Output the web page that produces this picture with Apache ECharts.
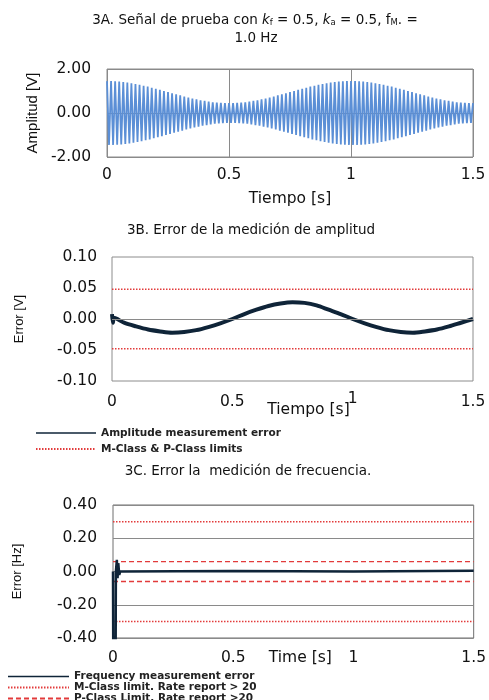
<!DOCTYPE html>
<html>
<head>
<meta charset="utf-8">
<script src="https://cdn.jsdelivr.net/npm/echarts@6/dist/echarts.min.js"></script>
<style>
html, body { margin: 0; padding: 0; background: #fff; }
#main { width: 489px; height: 700px; }
</style>
</head>
<body>
<div id="main"></div>
<script>
// 3A - peak amplitude of each carrier cycle (60 cycles per second)
var carrierHzA = 60;
var peaksA = [
    1.45, 1.45, 1.44, 1.43, 1.41, 1.38, 1.35, 1.32, 1.28, 1.24,
    1.20, 1.15, 1.10, 1.05, 1.00, 0.95, 0.90, 0.85, 0.80, 0.75,
    0.70, 0.66, 0.62, 0.58, 0.55, 0.52, 0.49, 0.47, 0.46, 0.45,
    0.45, 0.45, 0.46, 0.47, 0.49, 0.52, 0.55, 0.58, 0.62, 0.66,
    0.70, 0.75, 0.80, 0.85, 0.90, 0.95, 1.00, 1.05, 1.10, 1.15,
    1.20, 1.24, 1.28, 1.32, 1.35, 1.38, 1.41, 1.43, 1.44, 1.45,
    1.45, 1.45, 1.44, 1.43, 1.41, 1.38, 1.35, 1.32, 1.28, 1.24,
    1.20, 1.15, 1.10, 1.05, 1.00, 0.95, 0.90, 0.85, 0.80, 0.75,
    0.70, 0.66, 0.62, 0.58, 0.55, 0.52, 0.49, 0.47, 0.46, 0.45,
    0.45
];

// 3B - amplitude error
var timeB = [0, 0.004, 0.008, 0.05, 0.10, 0.15, 0.20, 0.25, 0.30, 0.35, 0.40, 0.45, 0.50,
    0.55, 0.60, 0.65, 0.70, 0.75, 0.80, 0.85, 0.90, 0.95, 1.00,
    1.05, 1.10, 1.15, 1.20, 1.25, 1.30, 1.35, 1.40, 1.45, 1.50];
var errB = [0.008, -0.006, 0.002, -0.006, -0.012, -0.017, -0.020, -0.022, -0.021, -0.018, -0.013, -0.007, 0.000,
    0.008, 0.015, 0.021, 0.025, 0.027, 0.026, 0.022, 0.015, 0.008, 0.000,
    -0.007, -0.013, -0.018, -0.021, -0.022, -0.020, -0.017, -0.012, -0.006, 0.000];
var limitB = 0.048;

// 3C - frequency error
var timeC = [0, 0.001, 0.011, 0.012, 0.016, 0.019, 0.022, 0.026, 0.03, 0.5, 1.0, 1.5];
var errC = [0, -0.5, -0.5, 0.0, 0.07, -0.04, 0.05, -0.02, 0.0, 0.003, 0.0, 0.005];
var limitM = 0.3;
var limitP = 0.06;

var FONT = 'DejaVu Sans';
var RED = '#e23b3b';
var NAVY = '#0f2438';

var waveA = [];
peaksA.forEach(function (p, i) {
    var t = i / carrierHzA;
    waveA.push([t, p]);
    if (i < peaksA.length - 1) waveA.push([t + 0.5 / carrierHzA, -p]);
});

function pairs(xs, ys) {
    return xs.map(function (x, i) { return [x, ys[i]]; });
}
function flat(v) {
    return [[0, v], [1.5, v]];
}

var myChart = echarts.init(document.getElementById('main'));

var labelStyle = { fontFamily: FONT, fontSize: 15.5, color: '#111' };

function xAxisBase(gi) {
    return {
        type: 'value', gridIndex: gi, min: 0, max: 1.5, interval: 0.5,
        axisLine: { show: false }, axisTick: { show: false },
        splitLine: { show: false },
        axisLabel: Object.assign({ margin: 10 }, labelStyle),
        nameMoveOverlap: false,
        nameTextStyle: { fontFamily: FONT, fontSize: 15.5, color: '#111' }
    };
}
function yAxisBase(gi, min, max, step, name, gap, nameSize) {
    return {
        type: 'value', gridIndex: gi, min: min, max: max, interval: step,
        axisLine: { show: false }, axisTick: { show: false },
        splitLine: { show: false },
        axisLabel: Object.assign({ margin: 16, formatter: function (v) { return v.toFixed(2); } }, labelStyle),
        name: name, nameLocation: 'middle', nameGap: gap, nameMoveOverlap: false,
        nameTextStyle: { fontFamily: 'Liberation Sans', fontSize: nameSize, color: '#111' }
    };
}

var xA = xAxisBase(0);
xA.splitLine = { show: true, lineStyle: { color: '#8a8a8a', width: 1 } };
xA.name = 'Tiempo [s]'; xA.nameLocation = 'middle'; xA.nameGap = 34;

var xB = xAxisBase(1);
xB.axisLabel.margin = 10;
xB.axisLabel.formatter = function (v) { return v === 1 ? '{h|1}' : '{n|' + v + '}'; };
xB.axisLabel.rich = {
    n: { fontFamily: FONT, fontSize: 15.5, color: '#111', padding: [3, 0, 0, 0] },
    h: { fontFamily: FONT, fontSize: 15.5, color: '#111' }
};
xB.name = 'Tiempo [s]'; xB.nameLocation = 'middle'; xB.nameGap = 21;
xB.nameTextStyle.padding = [0, 0, 0, 32];

var xC = xAxisBase(2);
xC.axisLabel.margin = 12;
xC.name = 'Time [s]'; xC.nameLocation = 'middle'; xC.nameGap = 12;
xC.nameTextStyle.padding = [0, 0, 0, 14];

var yA = yAxisBase(0, -2, 2, 2, 'Amplitud [V]', 67, 15);
yA.splitLine = { show: true, lineStyle: { color: '#8a8a8a', width: 1 } };
var yB = yAxisBase(1, -0.1, 0.1, 0.05, 'Error [V]', 86, 13);
yB.axisLabel.margin = 15;
var yC = yAxisBase(2, -0.4, 0.4, 0.2, 'Error [Hz]', 89, 13);
yC.splitLine = { show: true, lineStyle: { color: '#8a8a8a', width: 1 } };

var legendText = { fontFamily: FONT, fontSize: 10.5, fontWeight: 'bold', color: '#222' };

var option = {
    animation: false,
    backgroundColor: '#fff',
    graphic: [
        {
            type: 'text', x: 255, y: 20,
            style: {
                text: '3A. Señal de prueba con {k|k}{s|f} = 0.5, {k|k}{s|a} = 0.5, f{s|M}. =',
                fontFamily: FONT, fontSize: 13.5, fill: '#111',
                align: 'center', verticalAlign: 'middle',
                rich: {
                    k: { fontFamily: FONT, fontSize: 13.5, fontStyle: 'italic', fill: '#111' },
                    s: { fontFamily: FONT, fontSize: 8.5, fill: '#111', verticalAlign: 'bottom', padding: [6, 0, 0, 0] }
                }
            }
        },
        {
            type: 'text', x: 256, y: 38,
            style: { text: '1.0 Hz', fontFamily: FONT, fontSize: 13.5, fill: '#111', align: 'center', verticalAlign: 'middle' }
        },
        {
            type: 'text', x: 251, y: 230,
            style: { text: '3B. Error de la medición de amplitud', fontFamily: FONT, fontSize: 13.5, fill: '#111', align: 'center', verticalAlign: 'middle' }
        },
        {
            type: 'text', x: 248, y: 471,
            style: { text: '3C. Error la  medición de frecuencia.', fontFamily: FONT, fontSize: 13.5, fill: '#111', align: 'center', verticalAlign: 'middle' }
        }
    ],
    grid: [
        { left: 107, right: 16, top: 69, height: 88, show: true, borderColor: '#8c8c8c', borderWidth: 1 },
        { left: 112, right: 16, top: 257, height: 124, show: true, borderColor: '#8c8c8c', borderWidth: 1 },
        { left: 113, right: 14, top: 505, height: 133, show: true, borderColor: '#6f6f6f', borderWidth: 1 }
    ],
    xAxis: [xA, xB, xC],
    yAxis: [yA, yB, yC],
    legend: [
        {
            left: 35, top: 427, orient: 'vertical', padding: 0, height: 40,
            itemWidth: 60, itemHeight: 8, itemGap: 4,
            selectedMode: false, textStyle: Object.assign({ lineHeight: 12 }, legendText),
            itemStyle: { opacity: 0, borderWidth: 0 },
            data: [
                { name: 'Amplitude measurement error', lineStyle: { width: 1.5 } },
                { name: 'M-Class & P-Class limits' }
            ]
        },
        {
            left: 7, top: 671, orient: 'vertical', padding: 0, height: 45,
            itemWidth: 61, itemHeight: 8, itemGap: 0,
            selectedMode: false, textStyle: Object.assign({ lineHeight: 11 }, legendText),
            itemStyle: { opacity: 0, borderWidth: 0 },
            data: [
                { name: 'Frequency measurement error', lineStyle: { width: 1.5 } },
                { name: 'M-Class limit. Rate report > 20' },
                { name: 'P-Class Limit. Rate report >20' }
            ]
        }
    ],
    series: [
        {
            name: 'Señal', type: 'line', xAxisIndex: 0, yAxisIndex: 0,
            symbol: 'none', data: waveA,
            lineStyle: { color: '#5b8fd6', width: 1.8 }
        },
        {
            name: 'M-Class & P-Class limits', type: 'line', xAxisIndex: 1, yAxisIndex: 1,
            symbol: 'none', data: flat(limitB), z: 3,
            itemStyle: { color: RED },
            lineStyle: { color: RED, width: 1.5, type: [1.5, 1.5] },
            markLine: {
                silent: true, symbol: 'none', label: { show: false },
                lineStyle: { color: '#8a8a8a', width: 1, type: 'solid' },
                data: [{ yAxis: 0 }]
            }
        },
        {
            name: 'M-Class & P-Class limits', type: 'line', xAxisIndex: 1, yAxisIndex: 1,
            symbol: 'none', data: flat(-limitB), z: 3,
            itemStyle: { color: RED },
            lineStyle: { color: RED, width: 1.5, type: [1.5, 1.5] }
        },
        {
            name: 'Amplitude measurement error', type: 'line', xAxisIndex: 1, yAxisIndex: 1,
            symbol: 'none', smooth: 0.3, data: pairs(timeB, errB), z: 4,
            itemStyle: { color: NAVY },
            lineStyle: { color: NAVY, width: 4 }
        },
        {
            name: 'M-Class limit. Rate report > 20', type: 'line', xAxisIndex: 2, yAxisIndex: 2,
            symbol: 'none', data: flat(limitM), z: 3,
            itemStyle: { color: RED },
            lineStyle: { color: RED, width: 1.5, type: [1.5, 1.5] }
        },
        {
            name: 'M-Class limit. Rate report > 20', type: 'line', xAxisIndex: 2, yAxisIndex: 2,
            symbol: 'none', data: flat(-limitM), z: 3,
            itemStyle: { color: RED },
            lineStyle: { color: RED, width: 1.5, type: [1.5, 1.5] }
        },
        {
            name: 'P-Class Limit. Rate report >20', type: 'line', xAxisIndex: 2, yAxisIndex: 2,
            symbol: 'none', data: flat(limitP), z: 3,
            itemStyle: { color: RED },
            lineStyle: { color: RED, width: 1.3, type: [5, 3] }
        },
        {
            name: 'P-Class Limit. Rate report >20', type: 'line', xAxisIndex: 2, yAxisIndex: 2,
            symbol: 'none', data: flat(-limitP), z: 3,
            itemStyle: { color: RED },
            lineStyle: { color: RED, width: 1.3, type: [5, 3] }
        },
        {
            name: 'Frequency measurement error', type: 'line', xAxisIndex: 2, yAxisIndex: 2,
            symbol: 'none', data: pairs(timeC, errC), z: 4, clip: true,
            itemStyle: { color: NAVY },
            lineStyle: { color: NAVY, width: 2.5 }
        }
    ]
};

myChart.setOption(option);
window.onresize = function () {
    myChart.resize();
};
</script>
</body>
</html>
